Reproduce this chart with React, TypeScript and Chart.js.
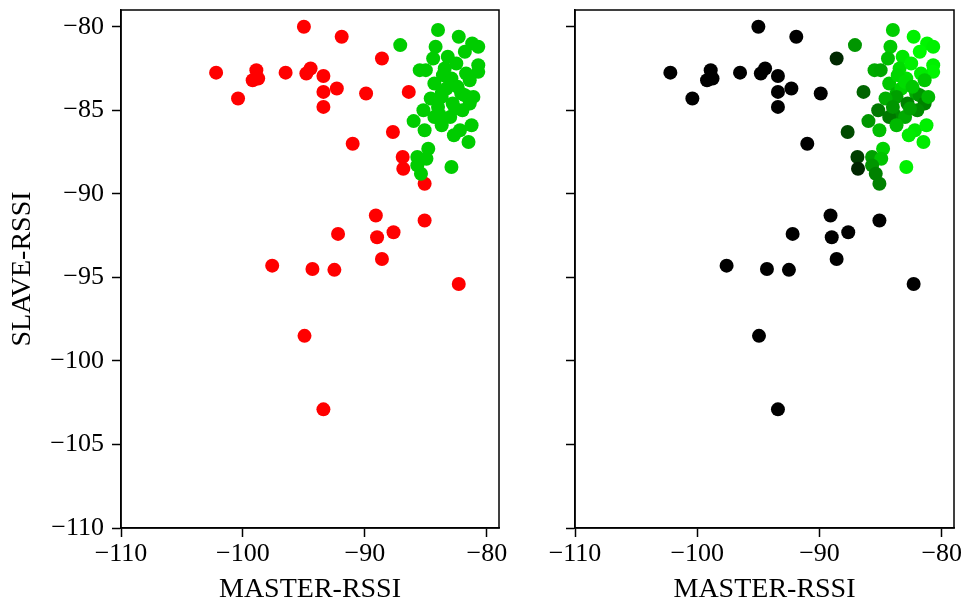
import React, { useEffect, useRef } from "react";
import { Chart, registerables } from "chart.js";
Chart.register(...registerables);

// MASTER-RSSI values
const masterRssi = [
  -95.0, -91.9, -88.6, -102.2, -98.9, -99.2, -98.75, -96.5, -94.8, -94.45,
  -93.4, -92.3, -93.4, -93.4, -100.4, -89.9, -86.4, -87.7, -91.0, -86.9,
  -86.85, -85.1, -89.1, -85.1, -92.2, -89.0, -87.65, -88.6, -97.6, -94.3,
  -92.5, -82.3, -94.95, -93.4,
  -84.0, -82.3, -87.1, -84.2, -81.2, -80.7, -81.8, -84.4, -83.2, -80.7,
  -80.7, -85.5, -85.0, -83.45, -81.7, -82.5, -84.3, -82.9, -83.7, -82.1,
  -83.3, -81.8, -81.4, -83.7, -82.0, -85.2, -83.85, -83.0, -82.8, -84.3,
  -86.0, -85.1, -83.7, -82.2, -81.25, -82.7, -81.5, -84.8, -85.7, -84.95,
  -85.7, -82.9, -85.4, -83.6, -83.0, -81.4, -84.6, -82.6, -81.1, -84.0,
  -82.4,
];
// SLAVE-RSSI values
const slaveRssi = [
  -80.0, -80.6, -81.9, -82.75, -82.6, -83.2, -83.1, -82.75, -82.8, -82.5,
  -82.95, -83.7, -83.9, -84.8, -84.3, -84.0, -83.9, -86.3, -87.0, -87.8,
  -88.5, -89.4, -91.3, -91.6, -92.4, -92.6, -92.3, -93.9, -94.3, -94.5,
  -94.55, -95.4, -98.5, -102.9,
  -80.2, -80.6, -81.1, -81.2, -81.0, -81.2, -81.5, -81.9, -81.8, -82.3,
  -82.7, -82.6, -82.6, -82.5, -82.8, -82.2, -83.4, -83.1, -84.0, -84.0,
  -83.7, -84.1, -84.6, -84.2, -85.0, -85.0, -85.3, -85.4, -84.6, -85.4,
  -85.65, -86.2, -85.9, -86.2, -85.9, -86.5, -86.9, -87.3, -87.8, -87.9,
  -88.3, -88.4, -88.8, -82.9, -83.3, -83.2, -84.3, -84.9, -84.2, -84.8,
  -83.6,
];
// Left panel class: 0 = red, 1 = green
const predictedClass = [
  0, 0, 0, 0, 0, 0, 0, 0, 0, 0,
  0, 0, 0, 0, 0, 0, 0, 0, 0, 0,
  0, 0, 0, 0, 0, 0, 0, 0, 0, 0,
  0, 0, 0, 0,
  1, 1, 1, 1, 1, 1, 1, 1, 1, 1,
  1, 1, 1, 1, 1, 1, 1, 1, 1, 1,
  1, 1, 1, 1, 1, 1, 1, 1, 1, 1,
  1, 1, 1, 1, 1, 1, 1, 1, 1, 1,
  1, 1, 1, 1, 1, 1, 1, 1, 1, 1,
  1,
];
// Right panel green level (0..255)
const greenLevel = [
  0, 0, 40, 0, 0, 0, 0, 0, 0, 0,
  0, 0, 0, 0, 0, 0, 100, 75, 0, 62,
  38, 130, 0, 0, 0, 0, 0, 0, 0, 0,
  0, 0, 0, 0,
  205, 240, 150, 200, 245, 240, 250, 190, 230, 240,
  245, 170, 165, 220, 235, 240, 200, 225, 180, 170,
  210, 150, 130, 160, 140, 120, 140, 170, 130, 120,
  150, 190, 185, 230, 240, 235, 235, 210, 160, 195,
  150, 240, 130, 215, 220, 200, 175, 160, 185, 150,
  200,
];

const xTicks = [-110, -100, -90, -80];
const yTicks = [-110, -105, -100, -95, -90, -85, -80];
const X_MIN = -110, X_MAX = -79, Y_MIN = -110, Y_MAX = -79;

const FONT = "'Liberation Serif', 'Times New Roman', serif";
const fmt = (v: number) => (v < 0 ? "\u2212" + Math.abs(v) : String(v));

const framePlugin = {
  id: "frame",
  afterDraw(chart: any) {
    const { ctx, chartArea } = chart;
    const { left, top, right, bottom } = chartArea;
    ctx.save();
    ctx.strokeStyle = "#000";
    ctx.lineWidth = 1.5;
    ctx.strokeRect(left, top, right - left, bottom - top);
    ctx.restore();
  },
};

function makeConfig(right: boolean) {
  const points = masterRssi.map((x, i) => ({ x, y: slaveRssi[i] }));
  const colors = right
    ? greenLevel.map((g) => `rgb(0,${g},0)`)
    : predictedClass.map((c) => (c === 1 ? "#00cc00" : "#ff0000"));
  const canvasW = right ? 438 : 520;
  const axisW = right ? 45 : 121;
  const plotRight = right ? 954 - 530 : 499;
  const zeroPad = (s: any) => {
    s.paddingTop = 0;
    s.paddingBottom = 0;
    s.paddingLeft = 0;
    s.paddingRight = 0;
  };
  return {
    type: "scatter",
    data: {
      datasets: [
        {
          data: points,
          backgroundColor: colors,
          borderWidth: 0,
          pointRadius: 7,
          pointHoverRadius: 7,
        },
      ],
    },
    options: {
      responsive: false,
      animation: false,
      devicePixelRatio: 1,
      layout: { padding: { top: 10, right: canvasW - plotRight, bottom: 0, left: 0 } },
      plugins: { legend: { display: false }, tooltip: { enabled: false } },
      events: [],
      scales: {
        x: {
          type: "linear",
          min: X_MIN,
          max: X_MAX,
          afterBuildTicks: (s: any) => {
            s.ticks = xTicks.map((v) => ({ value: v }));
          },
          afterFit: (s: any) => {
            s.height = 76;
            zeroPad(s);
          },
          ticks: {
            callback: (v: any) => fmt(Number(v)),
            font: { family: FONT, size: 26 },
            color: "#000",
            padding: 2,
            maxRotation: 0,
          },
          grid: {
            drawOnChartArea: false,
            drawTicks: true,
            tickLength: 9,
            tickColor: "#000",
            tickWidth: 1.5,
          },
          border: { display: true, color: "#000", width: 1.5 },
          title: {
            display: true,
            text: "MASTER-RSSI",
            font: { family: FONT, size: 28 },
            color: "#000",
            padding: { top: 0, bottom: -2 },
          },
        },
        y: {
          type: "linear",
          min: Y_MIN,
          max: Y_MAX,
          afterBuildTicks: (s: any) => {
            s.ticks = yTicks.map((v) => ({ value: v }));
          },
          afterFit: (s: any) => {
            s.width = axisW;
            zeroPad(s);
          },
          ticks: {
            display: !right,
            callback: (v: any) => fmt(Number(v)),
            font: { family: FONT, size: 26 },
            color: "#000",
            padding: 8,
          },
          grid: {
            drawOnChartArea: false,
            drawTicks: true,
            tickLength: 9,
            tickColor: "#000",
            tickWidth: 1.5,
          },
          border: { display: true, color: "#000", width: 1.5 },
          title: {
            display: !right,
            text: "SLAVE-RSSI",
            font: { family: FONT, size: 28 },
            color: "#000",
            padding: { top: 6, bottom: 0 },
          },
        },
      },
    },
    plugins: [framePlugin],
  } as any;
}

function Panel({ right }: { right: boolean }) {
  const ref = useRef<HTMLCanvasElement | null>(null);
  useEffect(() => {
    if (!ref.current) return;
    const chart = new Chart(ref.current, makeConfig(right));
    return () => chart.destroy();
  }, [right]);
  const w = right ? 438 : 520;
  return (
    <canvas
      ref={ref}
      width={w}
      height={604}
      style={{ position: "absolute", left: right ? 530 : 0, top: 0, width: w, height: 604 }}
    />
  );
}

export default function App() {
  return (
    <div
      style={{
        position: "fixed",
        left: 0,
        top: 0,
        width: 968,
        height: 604,
        background: "#fff",
        overflow: "hidden",
      }}
    >
      <Panel right={false} />
      <Panel right={true} />
    </div>
  );
}
